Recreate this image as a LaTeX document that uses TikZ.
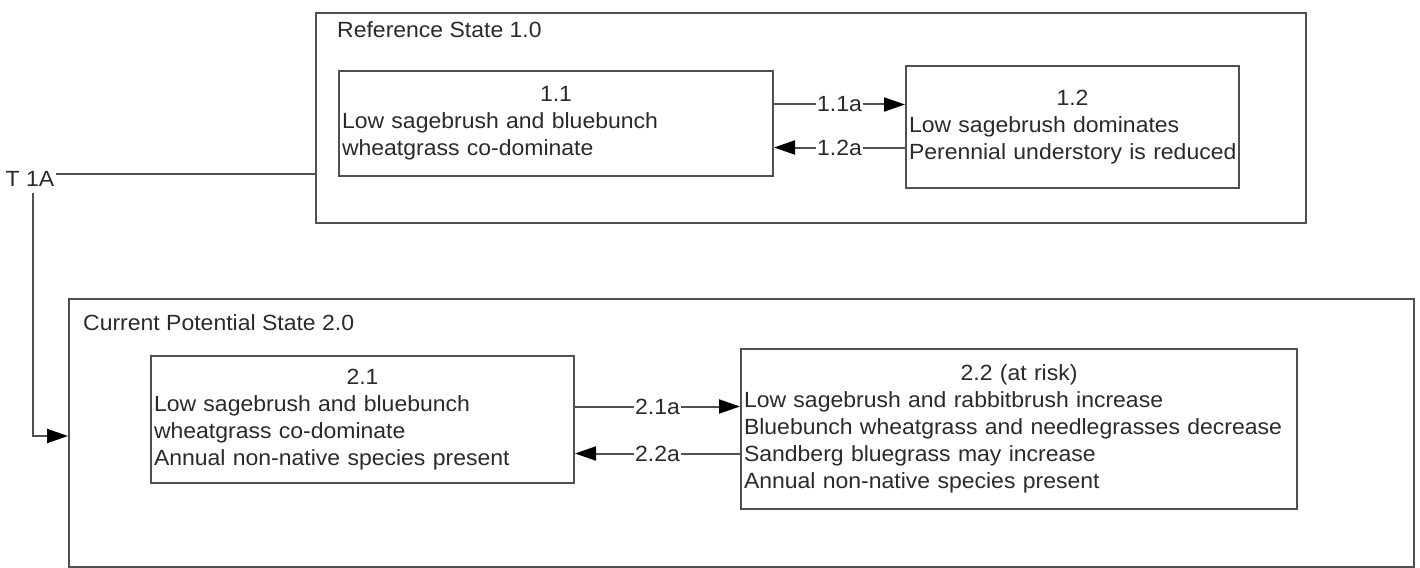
\documentclass[tikz,border=0pt]{standalone}
\usepackage{fontspec}
\setmainfont{Liberation Sans}[FakeStretch=1.045]
\usetikzlibrary{arrows.meta}
\definecolor{ln}{HTML}{505050}
\definecolor{txt}{HTML}{2A2A2A}
\newcommand\boxtitle[1]{\makebox[\hsize]{#1}}
\newcommand\bline[1]{\mbox{#1}}
\begin{document}
\begin{tikzpicture}[x=1pt,y=-1pt,
  every node/.style={font=\fontsize{22}{27}\selectfont, text=txt},
  frame/.style={draw=ln, line width=2pt, anchor=north west, inner sep=0pt},
  statebox/.style={draw=ln, line width=2pt, anchor=north west, align=left, inner xsep=3pt, inner ysep=0pt},
  frametitle/.style={anchor=west, inner sep=0pt},
  conn/.style={draw=ln, line width=2pt, -{Triangle[length=21pt,width=14pt,color=black]}},
  plain/.style={draw=ln, line width=2pt},
  lab/.style={fill=white, inner xsep=1pt, inner ysep=0pt}
]
\useasboundingbox (0,0) rectangle (1420,567);

% outer state frames
\node[frame, minimum width=990pt, minimum height=210pt] (ref) at (315,12) {};
\node[frametitle] (reftitle) at (337,30) {Reference State 1.0};
\node[frame, minimum width=1345pt, minimum height=268pt] (cur) at (68,298) {};
\node[frametitle] (curtitle) at (83,323) {Current Potential State 2.0};

% community phases
\node[statebox, text width=428pt, minimum height=105pt] (b11) at (338,70)
  {\boxtitle{1.1}\\\bline{Low sagebrush and bluebunch}\\\bline{wheatgrass co-dominate}};
\node[statebox, text width=327pt, minimum height=122pt] (b12) at (905,65)
  {\boxtitle{1.2}\\\bline{Low sagebrush dominates}\\\bline{Perennial understory is reduced}};
\node[statebox, text width=417pt, minimum height=127pt] (b21) at (150,355)
  {\boxtitle{2.1}\\\bline{Low sagebrush and bluebunch}\\\bline{wheatgrass co-dominate}\\\bline{Annual non-native species present}};
\node[statebox, text width=550pt, minimum height=160pt] (b22) at (740,348)
  {\boxtitle{2.2 (at risk)}\\\bline{Low sagebrush and rabbitbrush increase}\\\bline{Bluebunch wheatgrass and needlegrasses decrease}\\\bline{Sandberg bluegrass may increase}\\\bline{Annual non-native species present}};

% pathways
\draw[conn] ([yshift=19pt]b11.east) -- ([yshift=19pt]b11.east -| b12.west) node[midway, lab] {1.1a};
\draw[conn] ([yshift=-24pt]b11.east -| b12.west) -- ([yshift=-24pt]b11.east) node[midway, lab] {1.2a};
\draw[conn] ([yshift=13pt]b21.east) -- ([yshift=13pt]b21.east -| b22.west) node[midway, lab] {2.1a};
\draw[conn] ([yshift=-34pt]b21.east -| b22.west) -- ([yshift=-34pt]b21.east) node[midway, lab] {2.2a};

% transition
\node[inner sep=0pt] (t1a) at (30,179) {T 1A};
\draw[plain] ([xshift=2pt,yshift=5pt]t1a.east) -- ([yshift=5pt]t1a.east -| ref.west);
\draw[conn] ([xshift=3pt,yshift=-6pt]t1a.south) |- ([yshift=-3pt]cur.west);
\end{tikzpicture}
\end{document}
